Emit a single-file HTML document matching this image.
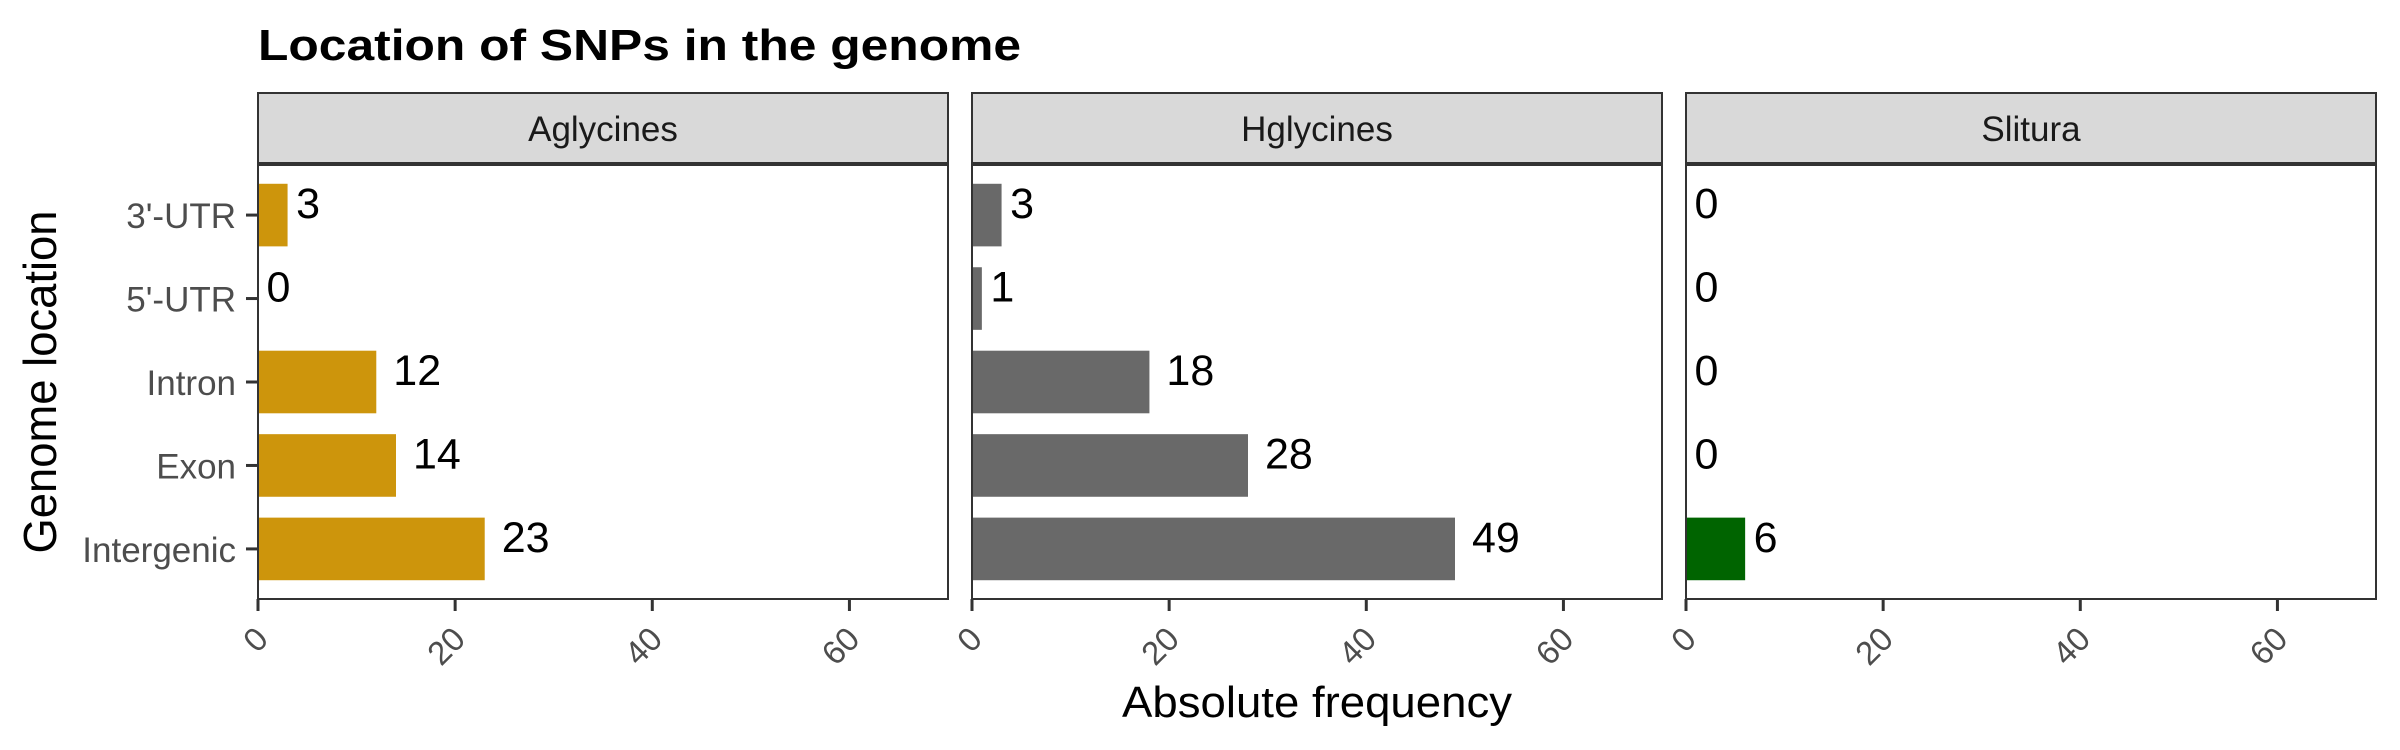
<!DOCTYPE html>
<html><head><meta charset="utf-8"><style>
html,body{margin:0;padding:0;background:#fff;}
svg{display:block;font-family:"Liberation Sans",Arial,sans-serif;}
</style></head><body>
<svg id="chart" width="2400" height="750" viewBox="0 0 2400 750" xmlns="http://www.w3.org/2000/svg">
<text x="258" y="60" font-size="44" font-weight="bold" fill="#000" textLength="763" lengthAdjust="spacingAndGlyphs">Location of SNPs in the genome</text>
<text transform="translate(56,382) rotate(-90)" text-anchor="middle" font-size="46" fill="#000" textLength="343" lengthAdjust="spacingAndGlyphs">Genome location</text>
<text x="1317" y="717" text-anchor="middle" font-size="44" fill="#000" textLength="390" lengthAdjust="spacingAndGlyphs">Absolute frequency</text>
<g id="panels"></g>
</svg>
<script>
const categories = ["3'-UTR", "5'-UTR", "Intron", "Exon", "Intergenic"];
const panelNames = ["Aglycines", "Hglycines", "Slitura"];
const aglycinesValues = [3, 0, 12, 14, 23];
const hglycinesValues = [3, 1, 18, 28, 49];
const sliturasValues = [0, 0, 0, 0, 6];
const xTicks = [0, 20, 40, 60];
const xMax = 70;

const seriesValues = [aglycinesValues, hglycinesValues, sliturasValues];
const colors = ["#CD950C", "#696969", "#006400"];
const panelLefts = [258, 972, 1686];
const panelW = 690, panelTop = 165, panelBottom = 599, stripTop = 93, stripBottom = 163;
const NS = "http://www.w3.org/2000/svg";
const root = document.getElementById("panels");
const catStep = (panelBottom - panelTop) / (categories.length + 0.2);
function yScale(i){ return panelTop + catStep * 0.6 + i * catStep; }
function mk(tag, attrs, parent){ const e = document.createElementNS(NS, tag); for (const k in attrs) e.setAttribute(k, attrs[k]); (parent||root).appendChild(e); return e; }

panelNames.forEach((name, p) => {
  const left = panelLefts[p];
  const xScale = v => left + v / xMax * panelW;
  const g = mk("g", {});
  
  
  const strip = mk("rect", {x:left, y:stripTop, width:panelW, height:stripBottom-stripTop, fill:"#d9d9d9", stroke:"#333", "stroke-width":2}, g);
  
  
  const st = mk("text", {x:left+panelW/2, y:stripTop+48, "text-anchor":"middle", "font-size":35, fill:"#1a1a1a"}, g);
  st.textContent = name;
  
  
  const bg = mk("rect", {x:left, y:panelTop, width:panelW, height:panelBottom-panelTop, fill:"#fff"}, g);
  
  
  seriesValues[p].forEach((v, i) => {
    const cy = yScale(i);
    const bh = catStep * 0.75;
    const bar = mk("rect", {x:xScale(0), y:cy-bh/2, width:Math.max(0, xScale(v)-xScale(0)), height:bh, fill:colors[p]}, g);
    
    
    const lbl = String(v);
    const t = mk("text", {x:xScale(v) + 8.5*lbl.length, y:cy+3, "font-size":43, fill:"#000"}, g);
    t.textContent = lbl;
    
    
  });
  const border = mk("rect", {x:left, y:panelTop, width:panelW, height:panelBottom-panelTop, fill:"none", stroke:"#333", "stroke-width":2}, g);
  
  
  xTicks.forEach(tv => {
    const x = xScale(tv);
    const tk = mk("line", {x1:x, x2:x, y1:panelBottom, y2:panelBottom+12, stroke:"#333", "stroke-width":3}, g);
    
    
    const tl = mk("text", {transform:`translate(${x+12},${panelBottom+42}) rotate(-45)`, "text-anchor":"end", "font-size":33, fill:"#4d4d4d"}, g);
    tl.textContent = String(tv);
    
    
  });
  if (p === 0) {
    categories.forEach((c, i) => {
      const cy = yScale(i);
      const tk = mk("line", {x1:left-12, x2:left, y1:cy, y2:cy, stroke:"#333", "stroke-width":3}, g);
      
      
      const tl = mk("text", {x:left-22, y:cy+13, "text-anchor":"end", "font-size":35, fill:"#4d4d4d"}, g);
      tl.textContent = c;
      
      
    });
  }
});
</script>
</body></html>
